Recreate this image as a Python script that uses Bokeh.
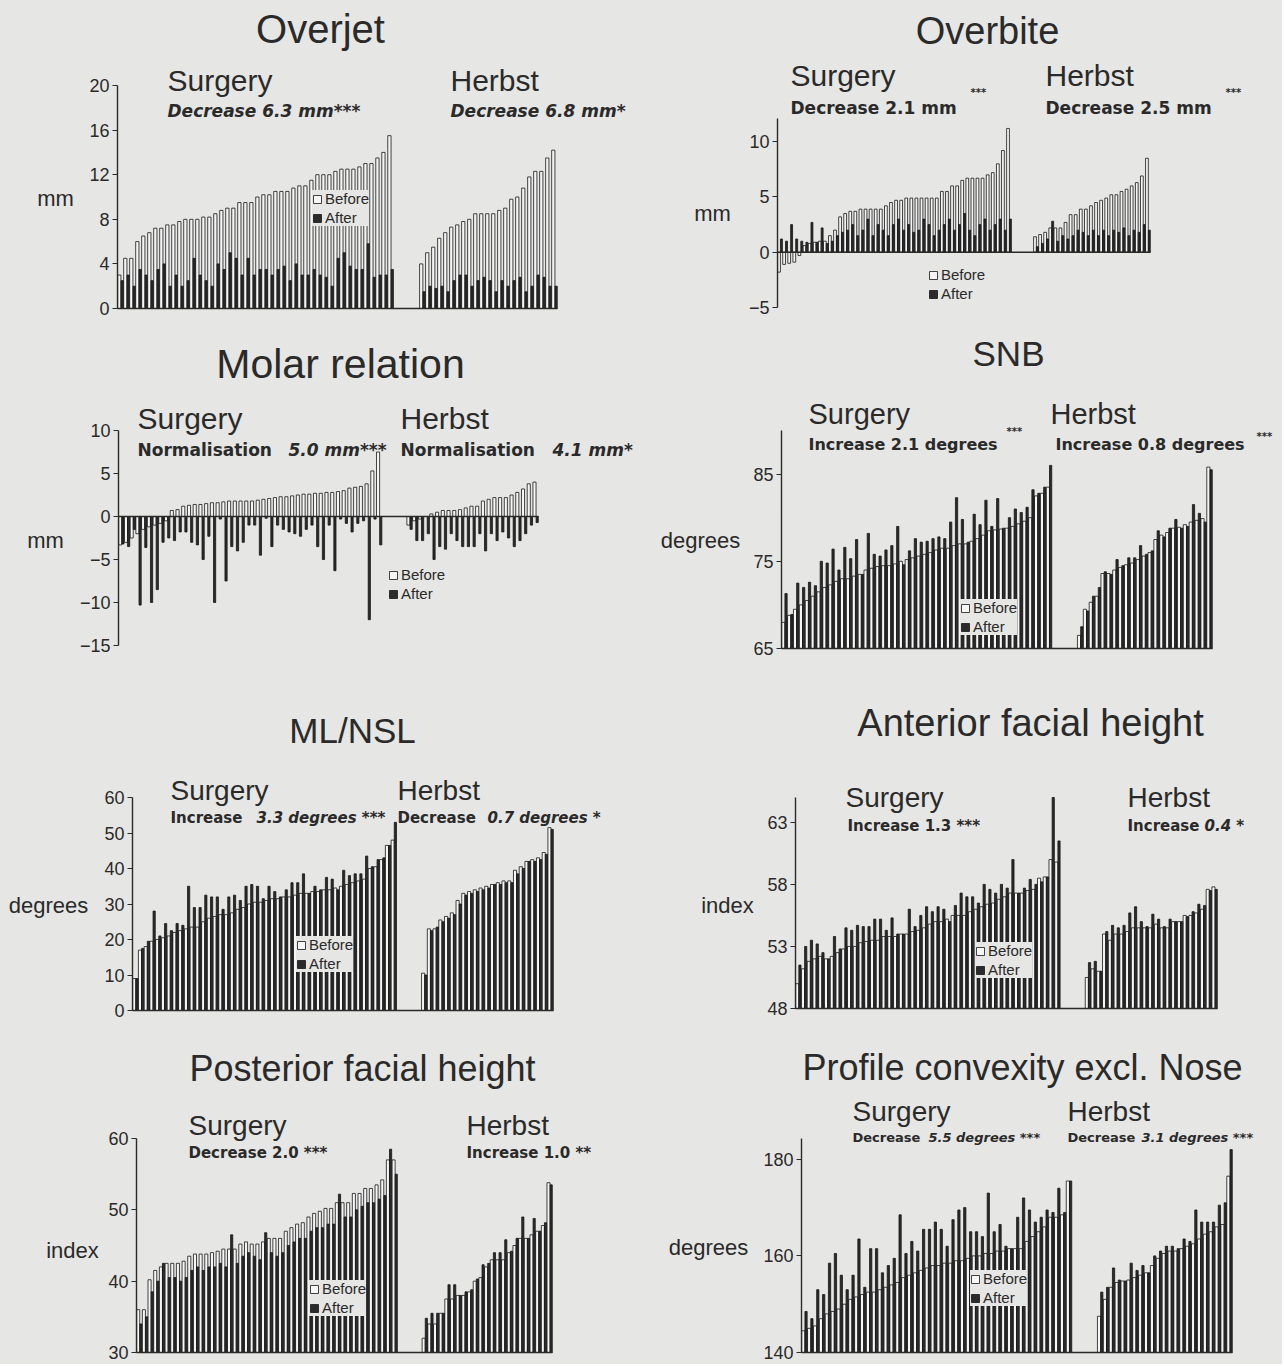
import numpy as np
from bokeh.plotting import figure
from bokeh.models import Label, Legend, LegendItem, FixedTicker, Range1d, ColumnDataSource
from bokeh.layouts import column, row
from bokeh.embed import file_html
from bokeh.resources import INLINE

# ---------------- data ----------------
overjet_surgery_before = [3.0, 4.5, 4.5, 6.0, 6.5, 6.8, 7.2, 7.2, 7.5, 7.5, 7.8, 8.0, 8.0, 8.0, 8.2, 8.2, 8.5, 8.8, 9.0, 9.0,
                          9.5, 9.5, 9.5, 10.0, 10.2, 10.2, 10.5, 10.5, 10.5, 10.8, 11.0, 11.0, 11.5, 12.0, 12.0, 12.0, 12.3,
                          12.5, 12.5, 12.5, 12.7, 13.0, 13.0, 13.5, 14.0, 15.5]
overjet_surgery_after = [2.5, 3.0, 2.0, 3.5, 3.0, 2.5, 3.5, 4.0, 2.0, 3.0, 2.0, 2.5, 4.5, 3.0, 2.5, 2.0, 4.0, 3.5, 5.0, 4.5,
                         3.0, 4.5, 3.0, 3.5, 3.5, 3.0, 3.5, 3.8, 2.5, 4.0, 3.0, 3.0, 3.5, 3.0, 2.8, 2.0, 4.5, 5.0, 3.8, 3.5,
                         3.5, 5.8, 2.8, 3.0, 3.0, 3.5]
overjet_herbst_before = [4.0, 5.0, 5.5, 6.3, 6.8, 7.3, 7.5, 7.8, 8.0, 8.5, 8.5, 8.5, 8.5, 8.8, 9.0, 9.8, 10.0, 10.8, 11.8,
                         12.3, 12.3, 13.5, 14.2]
overjet_herbst_after = [1.5, 2.0, 1.8, 2.0, 1.5, 2.5, 3.0, 3.0, 2.0, 2.5, 2.8, 2.5, 1.5, 2.5, 2.0, 2.5, 2.8, 1.5, 2.0, 3.0,
                        2.8, 2.0, 2.0]
overjet_ticks = [0, 4, 8, 12, 16, 20]

overbite_surgery_before = [-1.8, -1.1, -1.0, -0.9, -0.3, 0.6, 0.8, 0.9, 1.0, 1.0, 1.5, 2.0, 3.2, 3.5, 3.7, 3.7, 3.9, 3.9,
                           3.9, 3.9, 3.9, 4.2, 4.5, 4.7, 4.7, 4.9, 4.9, 4.9, 4.9, 4.9, 4.9, 4.9, 5.5, 5.5, 6.0, 6.0, 6.5,
                           6.7, 6.7, 6.7, 6.7, 7.0, 7.2, 8.0, 9.2, 11.2]
overbite_surgery_after = [1.2, 1.0, 2.5, 1.2, 1.0, 0.9, 2.7, 0.9, 2.2, 0.8, 1.0, 1.5, 1.8, 2.0, 2.5, 1.5, 2.0, 3.0, 1.5, 2.5,
                          2.0, 1.5, 2.5, 3.0, 2.0, 2.5, 1.8, 2.0, 3.0, 2.5, 1.5, 2.0, 2.5, 3.0, 2.0, 2.5, 3.5, 2.0, 1.5, 2.5,
                          3.0, 2.0, 2.5, 3.0, 2.0, 3.0]
overbite_herbst_before = [1.4, 1.6, 1.8, 2.2, 2.2, 2.2, 2.7, 3.4, 3.4, 3.9, 3.9, 4.2, 4.5, 4.7, 4.9, 5.2, 5.2, 5.5, 5.7, 6.0,
                          6.3, 6.9, 8.5]
overbite_herbst_after = [0.5, 0.8, 1.2, 2.8, 1.0, 1.5, 1.2, 1.5, 2.0, 1.8, 1.5, 2.0, 1.5, 2.0, 1.5, 2.0, 1.8, 2.2, 1.5, 2.0,
                         1.8, 2.5, 2.0]
overbite_ticks = [-5, 0, 5, 10]

molar_surgery_before = [-3.3, -3.0, -2.5, -2.0, -1.5, -1.2, -1.0, -0.8, -0.5, 0.7, 0.8, 1.2, 1.3, 1.4, 1.4, 1.5, 1.6, 1.6,
                        1.7, 1.8, 1.8, 1.8, 1.8, 1.8, 1.9, 2.0, 2.1, 2.2, 2.3, 2.3, 2.4, 2.5, 2.6, 2.6, 2.7, 2.7, 2.8, 2.8,
                        2.9, 3.0, 3.3, 3.4, 3.5, 3.8, 5.3, 7.5]
molar_surgery_after = [-3.2, -3.5, -1.5, -10.3, -3.6, -10.0, -8.5, -3.0, -2.5, -2.8, -1.8, -1.8, -3.0, -3.3, -5.0, -2.3,
                       -10.0, -0.3, -7.5, -3.5, -4.0, -3.0, -1.0, -1.0, -4.5, -0.2, -3.5, -1.0, -1.5, -1.8, -2.0, -2.3,
                       -1.5, -1.0, -3.5, -5.0, -1.0, -6.3, -0.3, -0.8, -1.8, -0.8, -0.5, -12.0, -0.3, -3.3]
molar_herbst_before = [-1.0, -0.5, -0.3, 0.0, 0.3, 0.5, 0.7, 0.7, 0.7, 0.8, 1.0, 1.2, 1.2, 1.8, 2.0, 2.2, 2.2, 2.2, 2.5,
                       2.8, 3.2, 3.8, 4.0]
molar_herbst_after = [-1.5, -2.8, -2.8, -2.0, -5.0, -3.5, -3.8, -2.0, -2.8, -3.5, -3.5, -3.5, -2.0, -4.0, -2.0, -2.8, -1.8,
                      -2.5, -3.5, -2.8, -2.0, -1.0, -0.7]
molar_ticks = [-15, -10, -5, 0, 5, 10]

snb_surgery_before = [68.0, 68.8, 69.5, 70.0, 70.5, 71.0, 71.5, 72.0, 72.3, 72.7, 73.0, 73.0, 73.3, 73.5, 74.0, 74.2, 74.4,
                      74.5, 74.5, 74.7, 75.0, 75.2, 75.4, 75.6, 75.8, 76.0, 76.3, 76.5, 76.5, 76.8, 77.0, 77.0, 77.3, 77.6,
                      78.0, 78.5, 78.6, 78.7, 78.8, 79.0, 79.3, 79.6, 80.0, 82.5, 82.8, 83.5]
snb_surgery_after = [71.3, 68.9, 72.5, 72.0, 72.6, 72.2, 75.0, 74.8, 76.4, 74.0, 76.6, 75.3, 77.5, 73.5, 78.2, 75.8, 75.6,
                     76.3, 76.8, 79.0, 74.6, 76.2, 77.6, 77.2, 77.3, 77.6, 77.8, 77.6, 79.5, 82.3, 79.8, 77.2, 80.4, 79.2,
                     82.0, 79.0, 82.2, 78.8, 80.0, 81.0, 80.6, 81.2, 83.2, 82.8, 83.5, 86.0]
snb_herbst_before = [66.5, 69.5, 70.3, 71.0, 73.6, 73.6, 74.0, 74.3, 74.6, 74.8, 75.2, 75.6, 76.0, 77.5, 78.0, 78.3, 78.8,
                     78.9, 79.2, 79.5, 79.7, 79.9, 85.8]
snb_herbst_after = [67.5, 69.3, 71.0, 72.0, 73.8, 73.5, 75.2, 74.5, 75.4, 75.4, 76.8, 75.8, 76.2, 78.5, 77.8, 78.8, 79.8,
                    78.8, 79.0, 81.5, 80.5, 79.5, 85.5]
snb_ticks = [65, 75, 85]

mlnsl_surgery_before = [9.0, 17.0, 18.0, 19.5, 20.0, 20.5, 21.0, 22.0, 22.5, 23.0, 23.5, 23.5, 25.0, 26.0, 26.5, 27.0, 27.0,
                        27.5, 28.5, 29.0, 30.0, 30.5, 30.5, 31.0, 31.5, 31.5, 32.0, 32.0, 32.5, 33.0, 33.0, 33.5, 33.5,
                        34.0, 34.0, 34.5, 35.0, 35.5, 36.0, 36.5, 37.0, 40.0, 40.5, 42.5, 46.5, 48.0]
mlnsl_surgery_after = [9.0, 17.5, 19.5, 28.0, 21.0, 24.5, 22.5, 24.5, 24.0, 35.0, 29.0, 29.0, 32.5, 32.0, 32.0, 28.5, 32.0,
                       32.5, 31.0, 35.0, 35.5, 35.0, 31.5, 35.0, 33.5, 32.0, 34.0, 36.0, 36.0, 38.5, 33.0, 35.0, 34.0,
                       37.5, 37.0, 34.0, 39.5, 38.0, 38.5, 38.5, 43.5, 40.5, 42.5, 43.0, 46.5, 53.0]
mlnsl_herbst_before = [10.5, 23.0, 23.0, 25.5, 26.5, 27.5, 31.0, 33.0, 33.5, 34.0, 34.5, 35.0, 35.5, 36.0, 36.5, 36.5, 39.5,
                       40.5, 42.0, 42.5, 43.0, 44.5, 51.5]
mlnsl_herbst_after = [10.0, 22.5, 23.5, 25.0, 26.0, 27.0, 30.0, 32.5, 33.0, 33.5, 34.0, 34.5, 35.5, 35.5, 36.0, 36.0, 38.5,
                      40.0, 42.0, 42.0, 42.5, 44.0, 51.0]
mlnsl_ticks = [0, 10, 20, 30, 40, 50, 60]

afh_surgery_before = [50.0, 51.2, 51.8, 52.0, 52.2, 52.0, 52.2, 52.5, 52.8, 53.0, 53.0, 53.3, 53.4, 53.5, 53.5, 53.8, 53.8,
                      53.8, 54.0, 54.0, 54.2, 54.3, 54.5, 54.8, 55.0, 55.0, 55.2, 55.5, 55.5, 55.5, 55.8, 56.0, 56.2, 56.4,
                      56.5, 56.8, 57.0, 57.3, 57.3, 57.3, 57.5, 57.6, 58.5, 58.6, 60.0, 59.8]
afh_surgery_after = [51.5, 53.0, 53.5, 53.2, 52.5, 52.0, 53.8, 52.8, 54.5, 54.3, 54.7, 54.6, 54.6, 55.2, 55.2, 54.3, 55.3,
                     54.0, 54.0, 56.0, 54.6, 55.5, 56.2, 55.8, 56.2, 56.0, 55.0, 56.3, 57.3, 57.0, 57.0, 56.5, 58.0, 57.6,
                     57.3, 58.0, 57.7, 60.0, 57.3, 57.7, 58.4, 58.0, 58.2, 58.6, 65.0, 61.5]
afh_herbst_before = [50.5, 51.2, 51.0, 54.0, 53.5, 54.0, 54.0, 54.2, 54.5, 54.5, 54.5, 54.5, 54.8, 54.5, 54.5, 55.0, 55.0,
                     55.5, 55.5, 55.7, 56.0, 57.6, 57.8]
afh_herbst_after = [51.7, 51.8, 51.0, 54.2, 54.7, 54.5, 54.7, 55.7, 56.2, 55.0, 54.6, 55.6, 55.2, 54.6, 55.2, 55.0, 55.0,
                    55.4, 55.8, 56.4, 56.3, 57.5, 57.6]
afh_ticks = [48, 53, 58, 63]

pfh_surgery_before = [36.0, 36.0, 40.2, 41.5, 42.0, 42.5, 42.5, 42.5, 42.8, 43.5, 43.8, 43.8, 43.8, 44.0, 44.2, 44.5, 44.5,
                      44.5, 45.2, 45.5, 45.2, 45.2, 45.5, 46.0, 46.0, 46.0, 47.0, 47.5, 48.0, 48.2, 49.0, 49.5, 49.8, 50.2,
                      50.2, 51.0, 51.0, 51.0, 52.3, 52.3, 53.0, 53.0, 53.5, 54.2, 57.0, 57.0]
pfh_surgery_after = [34.0, 35.0, 38.5, 40.0, 42.5, 40.5, 40.5, 40.0, 40.5, 41.5, 42.0, 41.5, 42.0, 42.0, 42.5, 42.0, 46.5,
                     42.5, 43.5, 44.0, 43.5, 43.0, 46.8, 44.0, 43.5, 44.0, 45.0, 45.5, 46.0, 46.0, 47.0, 47.5, 47.5, 48.0,
                     48.0, 52.2, 49.0, 49.0, 50.0, 50.5, 51.0, 51.0, 51.5, 52.0, 58.5, 55.0]
pfh_herbst_before = [32.0, 34.0, 34.0, 35.5, 37.5, 37.5, 38.0, 38.0, 38.5, 40.0, 40.5, 42.0, 43.0, 43.0, 43.0, 44.0, 45.0,
                     46.0, 46.0, 46.5, 47.0, 47.8, 53.8]
pfh_herbst_after = [34.8, 35.5, 35.5, 35.5, 39.5, 39.5, 38.0, 38.5, 38.8, 40.3, 42.3, 42.5, 44.0, 44.0, 45.8, 44.2, 46.0,
                    49.0, 46.0, 48.8, 47.0, 48.2, 53.5]
pfh_ticks = [30, 40, 50, 60]

profile_surgery_before = [144.5, 145.0, 145.5, 147.0, 148.0, 148.5, 149.0, 150.0, 151.0, 151.5, 152.0, 152.5, 152.5, 153.0,
                          153.5, 154.0, 154.5, 155.5, 156.0, 156.5, 157.0, 157.5, 158.0, 158.0, 158.5, 158.5, 159.0, 159.0,
                          159.5, 160.0, 160.0, 160.5, 160.5, 161.0, 161.0, 161.5, 161.5, 161.5, 163.0, 164.0, 165.0, 166.0,
                          168.0, 168.0, 168.5, 175.5]
profile_surgery_after = [148.5, 147.0, 153.0, 152.0, 158.5, 160.5, 156.0, 153.0, 156.0, 163.5, 153.5, 161.5, 161.5, 156.5,
                         158.0, 159.5, 168.5, 160.5, 163.0, 161.0, 165.5, 165.5, 167.0, 165.5, 162.0, 167.5, 169.5, 170.0,
                         165.0, 165.0, 164.0, 173.0, 165.0, 166.5, 162.0, 161.5, 168.0, 172.0, 169.5, 167.0, 168.0, 169.5,
                         169.0, 174.0, 169.0, 175.5]
profile_herbst_before = [147.5, 151.0, 153.5, 154.5, 154.8, 155.0, 155.5, 156.0, 156.5, 158.0, 159.5, 160.5, 161.0, 161.0,
                         161.5, 162.0, 162.5, 163.5, 164.5, 165.0, 166.0, 166.5, 176.5]
profile_herbst_after = [152.5, 153.5, 157.5, 155.0, 154.8, 158.5, 157.0, 158.0, 156.5, 160.0, 161.0, 162.0, 162.0, 161.5,
                        163.5, 163.0, 169.5, 167.0, 167.0, 167.0, 170.5, 171.0, 182.0]
profile_ticks = [140, 160, 180]

# ---------------- styling / layout ----------------
PAPER = "#e6e6e4"
INK = "#2a2a2a"
FONT = "Liberation Sans"
SUB_FONT = "DejaVu Sans"
GAP = 4.3
BEFORE_OFF, BEFORE_W = -0.2, 0.54
AFTER_OFF, AFTER_W = 0.27, 0.38

COL_X = [(0, 642), (642, 640)]
ROW_Y = [(0, 330), (330, 358), (688, 344), (1032, 332)]

# frame = (axis x, last bar x, axis top y, axis bottom y) in page pixels
PANELS = [
    dict(series=(overjet_surgery_before, overjet_surgery_after, overjet_herbst_before, overjet_herbst_after),
         ticks=overjet_ticks, yrange=(0, 20), base=0, cell=(0, 0),
         frame=(117, 557, 85, 308), legend=(312, 226),
         texts=[("Overjet", 320, 28, 40, "normal", "center"),
                ("Surgery", 167, 80, 30, "normal", "left"),
                ("Decrease 6.3 mm***", 167, 110, 17, "bold italic", "left"),
                ("Herbst", 450, 80, 30, "normal", "left"),
                ("Decrease 6.8 mm*", 450, 110, 17, "bold italic", "left"),
                ("mm", 55, 198, 22, "normal", "center")]),
    dict(series=(overbite_surgery_before, overbite_surgery_after, overbite_herbst_before, overbite_herbst_after),
         ticks=overbite_ticks, yrange=(-5, 12.1), base=0, cell=(1, 0),
         frame=(777, 1150, 118, 307), legend=(928, 302),
         texts=[("Overbite", 987, 30, 38, "normal", "center"),
                ("Surgery", 790, 75, 30, "normal", "left"),
                ("Decrease 2.1 mm", 790, 107, 17, "bold", "left"),
                ("***", 970, 92, 10, "bold", "left"),
                ("Herbst", 1045, 75, 30, "normal", "left"),
                ("Decrease 2.5 mm", 1045, 107, 17, "bold", "left"),
                ("***", 1225, 92, 10, "bold", "left"),
                ("mm", 712, 213, 22, "normal", "center")]),
    dict(series=(molar_surgery_before, molar_surgery_after, molar_herbst_before, molar_herbst_after),
         ticks=molar_ticks, yrange=(-15, 10), base=0, cell=(0, 1),
         frame=(118, 538, 430, 645), legend=(388, 602),
         texts=[("Molar relation", 340, 363, 41, "normal", "center"),
                ("Surgery", 137, 418, 30, "normal", "left"),
                ("Normalisation", 137, 449, 17, "bold", "left"),
                ("5.0 mm***", 288, 449, 17, "bold italic", "left"),
                ("Herbst", 400, 418, 30, "normal", "left"),
                ("Normalisation", 400, 449, 17, "bold", "left"),
                ("4.1 mm*", 552, 449, 17, "bold italic", "left"),
                ("mm", 45, 540, 22, "normal", "center")]),
    dict(series=(snb_surgery_before, snb_surgery_after, snb_herbst_before, snb_herbst_after),
         ticks=snb_ticks, yrange=(65, 90), base=65, cell=(1, 1),
         frame=(781, 1212, 430, 648), legend=(960, 635),
         texts=[("SNB", 1008, 353, 35, "normal", "center"),
                ("Surgery", 808, 413, 29, "normal", "left"),
                ("Increase 2.1 degrees", 808, 444, 16, "bold", "left"),
                ("***", 1006, 431, 10, "bold", "left"),
                ("Herbst", 1050, 413, 29, "normal", "left"),
                ("Increase 0.8 degrees", 1055, 444, 16, "bold", "left"),
                ("***", 1256, 436, 10, "bold", "left"),
                ("degrees", 700, 540, 22, "normal", "center")]),
    dict(series=(mlnsl_surgery_before, mlnsl_surgery_after, mlnsl_herbst_before, mlnsl_herbst_after),
         ticks=mlnsl_ticks, yrange=(0, 60), base=0, cell=(0, 2),
         frame=(132, 553, 797, 1010), legend=(296, 972),
         texts=[("ML/NSL", 352, 730, 35, "normal", "center"),
                ("Surgery", 170, 790, 28, "normal", "left"),
                ("Increase", 170, 817, 15, "bold", "left"),
                ("3.3 degrees ***", 256, 817, 15, "bold italic", "left"),
                ("Herbst", 397, 790, 28, "normal", "left"),
                ("Decrease", 397, 817, 15, "bold", "left"),
                ("0.7 degrees *", 487, 817, 15, "bold italic", "left"),
                ("degrees", 48, 905, 22, "normal", "center")]),
    dict(series=(afh_surgery_before, afh_surgery_after, afh_herbst_before, afh_herbst_after),
         ticks=afh_ticks, yrange=(48, 65), base=48, cell=(1, 2),
         frame=(795, 1217, 797, 1008), legend=(975, 978),
         texts=[("Anterior facial height", 1030, 722, 38, "normal", "center"),
                ("Surgery", 845, 797, 28, "normal", "left"),
                ("Increase 1.3 ***", 847, 825, 15, "bold", "left"),
                ("Herbst", 1127, 797, 28, "normal", "left"),
                ("Increase", 1127, 825, 15, "bold", "left"),
                ("0.4 *", 1204, 825, 15, "bold italic", "left"),
                ("index", 727, 905, 22, "normal", "center")]),
    dict(series=(pfh_surgery_before, pfh_surgery_after, pfh_herbst_before, pfh_herbst_after),
         ticks=pfh_ticks, yrange=(30, 60), base=30, cell=(0, 3),
         frame=(136, 552, 1138, 1352), legend=(309, 1316),
         texts=[("Posterior facial height", 362, 1068, 36, "normal", "center"),
                ("Surgery", 188, 1125, 28, "normal", "left"),
                ("Decrease 2.0 ***", 188, 1152, 15, "bold", "left"),
                ("Herbst", 466, 1125, 28, "normal", "left"),
                ("Increase 1.0 **", 466, 1152, 15, "bold", "left"),
                ("index", 72, 1250, 22, "normal", "center")]),
    dict(series=(profile_surgery_before, profile_surgery_after, profile_herbst_before, profile_herbst_after),
         ticks=profile_ticks, yrange=(140, 184.3), base=140, cell=(1, 3),
         frame=(801, 1232, 1138, 1352), legend=(970, 1306),
         texts=[("Profile convexity excl. Nose", 1022, 1067, 36, "normal", "center"),
                ("Surgery", 852, 1111, 28, "normal", "left"),
                ("Decrease", 852, 1137, 13, "bold", "left"),
                ("5.5 degrees ***", 928, 1137, 13, "bold italic", "left"),
                ("Herbst", 1067, 1111, 28, "normal", "left"),
                ("Decrease", 1067, 1137, 13, "bold", "left"),
                ("3.1 degrees ***", 1141, 1137, 13, "bold italic", "left"),
                ("degrees", 708, 1247, 22, "normal", "center")]),
]


def make_panel(cfg):
    cx, cw = COL_X[cfg["cell"][0]]
    cy, ch = ROW_Y[cfg["cell"][1]]
    fl, fr, ft, fb = cfg["frame"]
    sb, sa, hb, ha = [np.asarray(s, dtype=float) for s in cfg["series"]]
    ylo, yhi = cfg["yrange"]
    base = cfg["base"]
    n_s, n_h = len(sb), len(hb)
    x_s = np.arange(n_s, dtype=float)
    x_h = n_s + GAP + np.arange(n_h, dtype=float)
    x_all = np.concatenate([x_s, x_h])
    xa0, xa1 = -0.5, float(x_h[-1]) + 0.5   # extent of the bar area

    def xd(px):
        return xa0 + (px - fl) * (xa1 - xa0) / (fr - fl)

    def yd(py):
        return ylo + (fb - py) * (yhi - ylo) / (fb - ft)

    src = ColumnDataSource(dict(xb=x_all + BEFORE_OFF, xa=x_all + AFTER_OFF,
                                before=np.concatenate([sb, hb]), after=np.concatenate([sa, ha])))

    p = figure(width=cw, height=ch, title=None,
               x_range=Range1d(xd(cx), xd(cx + cw)), y_range=Range1d(yd(cy + ch), yd(cy)),
               x_axis_location=None, y_axis_location="left",
               min_border_left=0, min_border_right=0, min_border_top=0, min_border_bottom=0,
               output_backend="svg", toolbar_location=None,
               background_fill_color=PAPER, border_fill_color=PAPER, outline_line_color=None)
    p.xgrid.visible = False
    p.ygrid.visible = False
    ax = p.yaxis[0]
    ax.fixed_location = xa0
    ax.bounds = (ylo, yhi)
    ax.ticker = FixedTicker(ticks=cfg["ticks"])
    ax.minor_tick_line_color = None
    ax.major_tick_in = 0
    ax.major_tick_out = 5
    ax.axis_line_color = INK
    ax.axis_line_width = 1.4
    ax.major_tick_line_color = INK
    ax.major_label_text_font = FONT
    ax.major_label_text_font_size = "18px"
    ax.major_label_text_color = INK
    ax.major_label_standoff = 3

    rb = p.vbar(x="xb", width=BEFORE_W, top="before", bottom=base, source=src,
                fill_color="#f6f6f6", line_color="#151515", line_width=0.8)
    ra = p.vbar(x="xa", width=AFTER_W, top="after", bottom=base, source=src,
                fill_color="#2b2b2b", line_color="#151515", line_width=0.8)
    p.segment(x0=[xa0], y0=[base], x1=[xa1], y1=[base], line_color=INK, line_width=1.6)

    lx, ly = cfg["legend"]
    legend = Legend(items=[LegendItem(label="Before", renderers=[rb]), LegendItem(label="After", renderers=[ra])],
                    location=(lx - cx, cy + ch - ly), background_fill_color=PAPER, background_fill_alpha=1.0,
                    border_line_color=None, label_text_font=FONT, label_text_font_size="15px",
                    label_text_color=INK, glyph_width=10, glyph_height=10, label_height=15,
                    label_standoff=3, spacing=2, padding=4, margin=0)
    p.add_layout(legend)

    for text, px, py, size, style, align in cfg["texts"]:
        fam = SUB_FONT if "bold" in style else FONT
        p.add_layout(Label(x=xd(px), y=yd(py), x_units="data", y_units="data", text=text,
                           text_font=fam, text_font_size=f"{size}px", text_font_style=style,
                           text_color=INK, text_align=align, text_baseline="middle"))
    return p


figs = [make_panel(c) for c in PANELS]
bg = {"background-color": PAPER}
layout = column(row(figs[0], figs[1], styles=bg), row(figs[2], figs[3], styles=bg),
                row(figs[4], figs[5], styles=bg), row(figs[6], figs[7], styles=bg), styles=bg)

open("out.html", "w").write(file_html(layout, INLINE, title="Surgery vs Herbst"))
